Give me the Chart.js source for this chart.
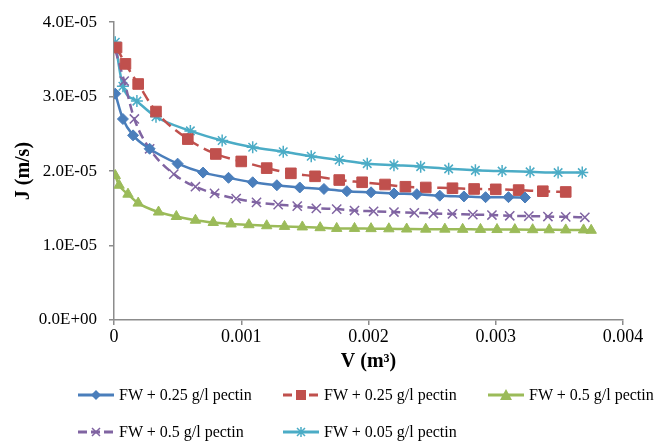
<!DOCTYPE html>
<html>
<head>
<meta charset="utf-8">
<script src="https://cdn.jsdelivr.net/npm/chart.js@4"></script>
<style>
  body { margin: 0; background: #fff; }
  #wrap { position: relative; width: 666px; height: 443px; }
  #legend { position: absolute; left: 0; top: 0; width: 666px; height: 443px; pointer-events: none;
            font-family: "Liberation Serif", "Times New Roman", serif; font-size: 16px; color: #000; }
  .item { position: absolute; display: flex; align-items: center; white-space: nowrap; }
  .item svg { margin-right: 5px; }
</style>
</head>
<body>
<div id="wrap">
  <canvas id="chart" width="666" height="443"></canvas>
  <div id="legend"></div>
</div>
<script>
// V (m3) and J (m/s)
const blueV = [0.00001, 0.00007, 0.00015, 0.00028, 0.0005, 0.0007, 0.0009, 0.00109, 0.00128, 0.00146,
  0.00165, 0.00183, 0.00202, 0.0022, 0.00238, 0.00256, 0.00275, 0.00292, 0.0031, 0.00323]
const blueJ = [3.04e-5, 2.70e-5, 2.48e-5, 2.30e-5, 2.10e-5, 1.98e-5, 1.91e-5, 1.85e-5, 1.81e-5, 1.78e-5,
  1.76e-5, 1.73e-5, 1.715e-5, 1.70e-5, 1.69e-5, 1.67e-5, 1.66e-5, 1.65e-5, 1.65e-5, 1.645e-5]

const redV = [0.00002, 0.00009, 0.00019, 0.00033, 0.00058, 0.0008, 0.001, 0.0012, 0.00139, 0.00158,
  0.00177, 0.00195, 0.00213, 0.00229, 0.00245, 0.00266, 0.00283, 0.003, 0.00318, 0.00337, 0.00355]
const redJ = [3.66e-5, 3.44e-5, 3.17e-5, 2.80e-5, 2.43e-5, 2.23e-5, 2.13e-5, 2.04e-5, 1.97e-5, 1.93e-5,
  1.88e-5, 1.85e-5, 1.82e-5, 1.79e-5, 1.78e-5, 1.77e-5, 1.76e-5, 1.755e-5, 1.745e-5, 1.73e-5, 1.72e-5]

const greenV = [0.00001, 0.00004, 0.00011, 0.00019, 0.00035, 0.00049, 0.00064, 0.00078, 0.00092, 0.00106,
  0.0012, 0.00134, 0.00148, 0.00162, 0.00175, 0.00189, 0.00202, 0.00216, 0.0023, 0.00245,
  0.0026, 0.00274, 0.00288, 0.00301, 0.00315, 0.00329, 0.00342, 0.00355, 0.00369, 0.00375]
const greenJ = [1.94e-5, 1.81e-5, 1.69e-5, 1.57e-5, 1.45e-5, 1.39e-5, 1.34e-5, 1.31e-5, 1.29e-5, 1.28e-5,
  1.266e-5, 1.257e-5, 1.25e-5, 1.24e-5, 1.23e-5, 1.23e-5, 1.227e-5, 1.225e-5, 1.222e-5, 1.22e-5,
  1.22e-5, 1.218e-5, 1.217e-5, 1.215e-5, 1.214e-5, 1.213e-5, 1.212e-5, 1.21e-5, 1.21e-5, 1.205e-5]

const purpleV = [0.00001, 0.00008, 0.00016, 0.00028, 0.00047, 0.00064, 0.00079, 0.00096, 0.00112, 0.00129,
  0.00144, 0.00159, 0.00175, 0.00189, 0.00204, 0.0022, 0.00236, 0.00251, 0.00266, 0.00282,
  0.00297, 0.00311, 0.00326, 0.00341, 0.00355, 0.0037]
const purpleJ = [3.63e-5, 3.21e-5, 2.70e-5, 2.30e-5, 1.96e-5, 1.79e-5, 1.70e-5, 1.63e-5, 1.58e-5, 1.55e-5,
  1.53e-5, 1.50e-5, 1.49e-5, 1.47e-5, 1.46e-5, 1.45e-5, 1.44e-5, 1.43e-5, 1.425e-5, 1.415e-5,
  1.41e-5, 1.40e-5, 1.395e-5, 1.39e-5, 1.385e-5, 1.38e-5]

const cyanV = [0.00001, 0.00007, 0.00018, 0.00033, 0.0006, 0.00085, 0.00109, 0.00133, 0.00155, 0.00177,
  0.00199, 0.0022, 0.00241, 0.00263, 0.00284, 0.00305, 0.00327, 0.00349, 0.00368]
const cyanJ = [3.73e-5, 3.14e-5, 2.94e-5, 2.73e-5, 2.54e-5, 2.41e-5, 2.32e-5, 2.26e-5, 2.20e-5, 2.15e-5,
  2.10e-5, 2.08e-5, 2.06e-5, 2.03e-5, 2.01e-5, 2.00e-5, 1.99e-5, 1.98e-5, 1.98e-5]

const seriesNames = ['FW + 0.25 g/l pectin', 'FW + 0.25 g/l pectin', 'FW + 0.5 g/l pectin',
  'FW + 0.5 g/l pectin', 'FW + 0.05 g/l pectin']
const xTickLabels = ['0', '0.001', '0.002', '0.003', '0.004']
const yTickLabels = ['0.0E+00', '1.0E-05', '2.0E-05', '3.0E-05', '4.0E-05']

const serif = '"Liberation Serif", "Times New Roman", serif'
const axisGray = '#8c8c8c'

const toPoints = (xs, ys) => xs.map((x, i) => ({ x: x, y: ys[i] }))

const styles = [
  { color: '#4a7ebb', point: 'rectRot', radius: 5.5, dash: [] },
  { color: '#c0504d', point: 'rect', radius: 7.5, dash: [11, 6] },
  { color: '#9bbb59', point: 'triangle', radius: 6, dash: [] },
  { color: '#8064a2', point: 'crossRot', radius: 6.5, dash: [9, 5] },
  { color: '#4bacc6', point: 'star', radius: 6, dash: [] },
]
const allData = [
  toPoints(blueV, blueJ), toPoints(redV, redJ), toPoints(greenV, greenJ),
  toPoints(purpleV, purpleJ), toPoints(cyanV, cyanJ),
]

const datasets = allData.map((d, i) => ({
  label: seriesNames[i],
  data: d,
  borderColor: styles[i].color,
  backgroundColor: styles[i].color,
  borderWidth: 2.5,
  borderDash: styles[i].dash,
  pointStyle: styles[i].point,
  pointRadius: styles[i].radius,
  pointBorderWidth: styles[i].point.indexOf('cross') === 0 || styles[i].point === 'star' ? 1.5 : 1,
  showLine: true,
  cubicInterpolationMode: 'monotone',
}))

const ctx = document.getElementById('chart').getContext('2d')
new Chart(ctx, {
  type: 'scatter',
  data: { datasets: datasets },
  options: {
    responsive: false,
    animation: false,
    layout: { padding: { left: 12, right: 43, top: 17, bottom: 69 } },
    plugins: { legend: { display: false }, tooltip: { enabled: false } },
    scales: {
      x: {
        type: 'linear', min: 0, max: 0.004,
        afterFit: (scale) => { scale.height = 54 },
        border: { color: axisGray, width: 1.5 },
        grid: { drawOnChartArea: false, color: axisGray, tickLength: 5, lineWidth: 1.5 },
        ticks: {
          stepSize: 0.001, padding: 1, color: '#000',
          font: { family: serif, size: 18 },
          callback: (v, i) => xTickLabels[i],
        },
        title: { display: true, text: 'V (m³)', color: '#000', padding: 0,
          font: { family: serif, size: 20, weight: 'bold' } },
      },
      y: {
        type: 'linear', min: 0, max: 4e-5,
        afterFit: (scale) => { scale.width = 102 },
        border: { color: axisGray, width: 1.5 },
        grid: { drawOnChartArea: false, color: axisGray, tickLength: 5, lineWidth: 1.5 },
        ticks: {
          stepSize: 1e-5, padding: 12, color: '#000',
          font: { family: serif, size: 17 },
          callback: (v, i) => yTickLabels[i],
        },
        title: { display: true, text: 'J (m/s)', color: '#000', padding: 0,
          font: { family: serif, size: 20, weight: 'bold' } },
      },
    },
  },
})

// legend laid out like the original: three columns, two rows
const legendPos = [[78, 396], [283, 396], [488, 396], [78, 433], [283, 433]]
function markerSvg(s) {
  const c = s.color, cx = 18, cy = 7
  let m = ''
  if (s.point === 'rectRot') m = `<polygon points="${cx},${cy - 5} ${cx + 5},${cy} ${cx},${cy + 5} ${cx - 5},${cy}" fill="${c}"/>`
  if (s.point === 'rect') m = `<rect x="${cx - 5}" y="${cy - 5}" width="10" height="10" fill="${c}"/>`
  if (s.point === 'triangle') m = `<polygon points="${cx},${cy - 6} ${cx + 6},${cy + 5} ${cx - 6},${cy + 5}" fill="${c}"/>`
  if (s.point === 'crossRot') m = `<path d="M${cx - 4} ${cy - 4}L${cx + 4} ${cy + 4}M${cx + 4} ${cy - 4}L${cx - 4} ${cy + 4}" stroke="${c}" stroke-width="1.5"/>`
  if (s.point === 'star') m = `<path d="M${cx - 4} ${cy - 4}L${cx + 4} ${cy + 4}M${cx + 4} ${cy - 4}L${cx - 4} ${cy + 4}M${cx} ${cy - 5}L${cx} ${cy + 5}M${cx - 5} ${cy}L${cx + 5} ${cy}" stroke="${c}" stroke-width="1.5"/>`
  const dash = s.dash.length ? 'stroke-dasharray="9 4"' : ''
  return `<svg width="36" height="14"><line x1="0" y1="${cy}" x2="36" y2="${cy}" stroke="${c}" stroke-width="3" ${dash}/>${m}</svg>`
}
const legend = document.getElementById('legend')
seriesNames.forEach((name, i) => {
  const el = document.createElement('div')
  el.className = 'item'
  el.style.left = legendPos[i][0] + 'px'
  el.style.top = (legendPos[i][1] - 10) + 'px'
  el.innerHTML = markerSvg(styles[i]) + '<span>' + name + '</span>'
  legend.appendChild(el)
})
</script>
</body>
</html>
